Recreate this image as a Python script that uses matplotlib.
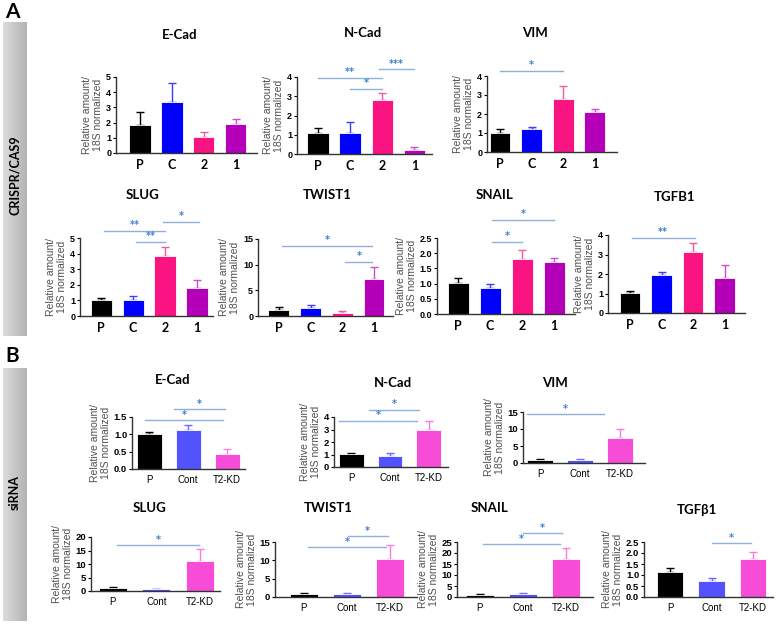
import numpy as np
import matplotlib
matplotlib.use('Agg')
import matplotlib.pyplot as plt

W, H = 783, 624

# ---- panel A (CRISPR/CAS9) ----
a_groups = ['P', 'C', '2', '1']
a_colors = ['#000000', '#0000ff', '#fa1482', '#b400b8']
a_errcolors = ['#000000', '#3c3cff', '#f25c9c', '#c94fcc']

a_ecad_mean = [1.85, 3.36, 1.03, 1.88]
a_ecad_top = [2.7, 4.6, 1.35, 2.22]
a_ncad_mean = [1.1, 1.1, 2.8, 0.21]
a_ncad_top = [1.35, 1.66, 3.17, 0.37]
a_vim_mean = [1.0, 1.2, 2.78, 2.1]
a_vim_top = [1.2, 1.3, 3.5, 2.28]
a_slug_mean = [1.02, 1.02, 3.85, 1.8]
a_slug_top = [1.15, 1.27, 4.45, 2.3]
a_twist_mean = [1.25, 1.6, 0.65, 7.3]
a_twist_top = [1.85, 2.15, 0.98, 9.6]
a_snail_mean = [1.02, 0.86, 1.8, 1.72]
a_snail_top = [1.2, 0.98, 2.09, 1.84]
a_tgfb_mean = [1.03, 1.93, 3.15, 1.78]
a_tgfb_top = [1.15, 2.08, 3.6, 2.46]

# ---- panel B (siRNA) ----
b_groups = ['P', 'Cont', 'T2-KD']
b_colors = ['#000000', '#5252ff', '#f64cd8']
b_errcolors = ['#000000', '#6a6aff', '#f67ee0']

b_ecad_mean = [1.0, 1.13, 0.44]
b_ecad_top = [1.06, 1.26, 0.57]
b_ncad_mean = [1.05, 0.9, 3.0]
b_ncad_top = [1.1, 1.1, 3.65]
b_vim_mean = [0.9, 1.0, 7.3]
b_vim_top = [1.1, 1.15, 10.0]
b_slug_mean = [1.0, 0.8, 11.2]
b_slug_top = [1.4, 0.9, 15.6]
b_twist_mean = [0.9, 0.9, 10.3]
b_twist_top = [1.1, 1.05, 14.2]
b_snail_mean = [1.0, 1.5, 17.5]
b_snail_top = [1.4, 1.8, 22.5]
b_tgfb_mean = [1.14, 0.72, 1.75]
b_tgfb_top = [1.34, 0.86, 2.05]

# significance bars: (x start, x end, y, label)
a_ncad_sig = [(0, 2, 3.95, '**'), (1, 2, 3.38, '*'), (1.9, 3, 4.4, '***')]
a_vim_sig = [(0, 2, 4.26, '*')]
a_slug_sig = [(0.1, 2, 5.45, '**'), (1.1, 2, 4.74, '**'), (1.95, 3.05, 6.03, '*')]
a_twist_sig = [(0.1, 2.95, 13.6, '*'), (2.1, 2.95, 10.5, '*')]
a_snail_sig = [(1.05, 2, 2.37, '*'), (1.05, 3, 3.09, '*')]
a_tgfb_sig = [(0.05, 2.05, 3.85, '**')]
b_ecad_sig = [(-0.1, 1.9, 1.41, '*'), (0.65, 1.95, 1.73, '*')]
b_ncad_sig = [(-0.3, 1.7, 3.7, '*'), (0.45, 1.75, 4.6, '*')]
b_vim_sig = [(-0.33, 1.6, 14.4, '*')]
b_slug_sig = [(0.1, 1.98, 17.0, '*')]
b_twist_sig = [(0.1, 1.9, 13.6, '*'), (1.02, 1.95, 16.6, '*')]
b_snail_sig = [(0.07, 1.86, 24.0, '*'), (1.0, 1.9, 29.0, '*')]
b_tgfb_sig = [(1.0, 1.95, 2.45, '*')]

plt.rcParams['font.family'] = ['Liberation Sans', 'DejaVu Sans']
TITLE_FONT = ['Lato', 'DejaVu Sans']
NARROW_FONT = ['Liberation Sans Narrow', 'Liberation Sans', 'DejaVu Sans']

fig = plt.figure(figsize=(W / 100, H / 100), dpi=100)


def px_axes(x0, x1, ytop, ybot):
    return fig.add_axes([x0 / W, 1 - ybot / H, (x1 - x0) / W, (ybot - ytop) / H])


def draw(box, xlim, ymax, ystep, fmt, title, tpos, groups, colors, ecolors,
         mean, top, sig, panel_a):
    ax = px_axes(*box)
    x = np.arange(len(groups))
    ax.bar(x, mean, width=0.66 if panel_a else 0.64, color=colors,
           edgecolor='white', linewidth=0.6, zorder=2)
    for xi, m, t, ec in zip(x, mean, top, ecolors):
        ax.errorbar(xi, m, yerr=[[0], [t - m]], ecolor=ec, elinewidth=1.0,
                    capsize=3, capthick=1.0, fmt='none', zorder=1)
    ax.set_xlim(*xlim)
    ax.set_ylim(0, ymax)
    ax.set_yticks(np.arange(0, ymax + ystep / 2, ystep))
    ax.yaxis.set_major_formatter(plt.FormatStrFormatter(fmt))
    ax.set_xticks(x)
    if panel_a:
        ax.set_xticklabels(groups, fontsize=9, fontweight='bold',
                           family=TITLE_FONT)
        ax.tick_params(axis='y', labelsize=6.5, length=2.5, width=0.8, pad=1)
        for lab in ax.get_yticklabels():
            lab.set_family(NARROW_FONT)
            lab.set_fontweight('bold')
    else:
        ax.set_xticklabels(groups, fontsize=7)
        ax.tick_params(axis='y', labelsize=6.8, length=2.5, width=0.8, pad=1)
        for lab in ax.get_yticklabels():
            lab.set_fontweight('bold')
    ax.tick_params(axis='x', length=0, pad=4)
    for s in ['top', 'right']:
        ax.spines[s].set_visible(False)
    for s in ['left', 'bottom']:
        ax.spines[s].set_linewidth(1.0)
        ax.spines[s].set_color('#333333')
    ax.set_ylabel('Relative amount/\n18S normalized', fontsize=7.5,
                  color='#505050', labelpad=2, linespacing=1.1)
    for x1, x2, y, lab in sig:
        ax.plot([x1, x2], [y, y], color='#8fb0da', lw=1.0, clip_on=False)
        ax.text((x1 + x2) / 2, y + ymax * 0.01, lab, ha='center', va='bottom',
                color='#3d7fd0', fontsize=7, fontweight='bold',
                family='DejaVu Sans', clip_on=False)
    fig.text(tpos[0] / W, 1 - tpos[1] / H, title, ha='center', va='center',
             fontsize=9.5, fontweight='bold', family=TITLE_FONT)
    return ax


A = (a_groups, a_colors, a_errcolors)
B = (b_groups, b_colors, b_errcolors)

draw((116, 257, 77, 153), (-0.75, 3.66), 5, 1, '%d', 'E-Cad', (180, 35), *A,
     a_ecad_mean, a_ecad_top, [], True)
draw((297, 432, 77, 154), (-0.65, 3.55), 4, 1, '%d', 'N-Cad', (363, 33), *A,
     a_ncad_mean, a_ncad_top, a_ncad_sig, True)
draw((487, 617, 76, 152), (-0.41, 3.7), 4, 1, '%d', 'VIM', (535, 33), *A,
     a_vim_mean, a_vim_top, a_vim_sig, True)
draw((80, 213, 238, 316), (-0.66, 3.5), 5, 1, '%d', 'SLUG', (143, 195), *A,
     a_slug_mean, a_slug_top, a_slug_sig, True)
draw((258, 393, 239, 316), (-0.66, 3.6), 15, 5, '%d', 'TWIST1', (327, 195), *A,
     a_twist_mean, a_twist_top, a_twist_sig, True)
draw((437, 575, 238, 314), (-0.66, 3.65), 2.5, 0.5, '%.1f', 'SNAIL', (495, 195), *A,
     a_snail_mean, a_snail_top, a_snail_sig, True)
draw((608, 745, 235, 313), (-0.7, 3.65), 4, 1, '%d', 'TGFB1', (675, 197), *A,
     a_tgfb_mean, a_tgfb_top, a_tgfb_sig, True)

draw((132, 245, 417, 469), (-0.44, 2.46), 1.5, 0.5, '%.1f', 'E-Cad', (173, 380), *B,
     b_ecad_mean, b_ecad_top, b_ecad_sig, False)
draw((334, 448, 417, 467), (-0.44, 2.49), 4, 1, '%d', 'N-Cad', (393, 383), *B,
     b_ncad_mean, b_ncad_top, b_ncad_sig, False)
draw((523, 645, 412, 463), (-0.43, 2.63), 15, 5, '%d', 'VIM', (555, 383), *B,
     b_vim_mean, b_vim_top, b_vim_sig, False)
draw((91, 220, 537, 591), (-0.5, 2.46), 20, 5, '%d', 'SLUG', (150, 508), *B,
     b_slug_mean, b_slug_top, b_slug_sig, False)
draw((275, 417, 542, 597), (-0.67, 2.63), 15, 5, '%d', 'TWIST1', (328, 508), *B,
     b_twist_mean, b_twist_top, b_twist_sig, False)
draw((457, 593, 542, 597), (-0.53, 2.63), 25, 5, '%d', 'SNAIL', (490, 508), *B,
     b_snail_mean, b_snail_top, b_snail_sig, False)
draw((644, 773, 542, 597), (-0.63, 2.48), 2.5, 0.5, '%.1f', 'TGF\u03b21', (697, 510), *B,
     b_tgfb_mean, b_tgfb_top, b_tgfb_sig, False)

# grey side bars with section labels
grad = np.linspace(0.86, 0.7, 50).reshape(1, -1)
for y0, y1, lab, ly in [(22, 336, 'CRISPR/CAS9', 175), (368, 621, 'siRNA', 493)]:
    sb = px_axes(3, 27, y0, y1)
    sb.imshow(grad, cmap='gray', vmin=0, vmax=1, aspect='auto')
    sb.axis('off')
    fig.text(15 / W, 1 - ly / H, lab, rotation=90, ha='center', va='center',
             fontsize=9, fontweight='bold', family=TITLE_FONT)

fig.text(12 / W, 1 - 12 / H, 'A', ha='center', va='center', fontsize=15,
         fontweight='bold', family=TITLE_FONT)
fig.text(12 / W, 1 - 356 / H, 'B', ha='center', va='center', fontsize=15,
         fontweight='bold', family=TITLE_FONT)

fig.savefig('out.png', dpi=100)
